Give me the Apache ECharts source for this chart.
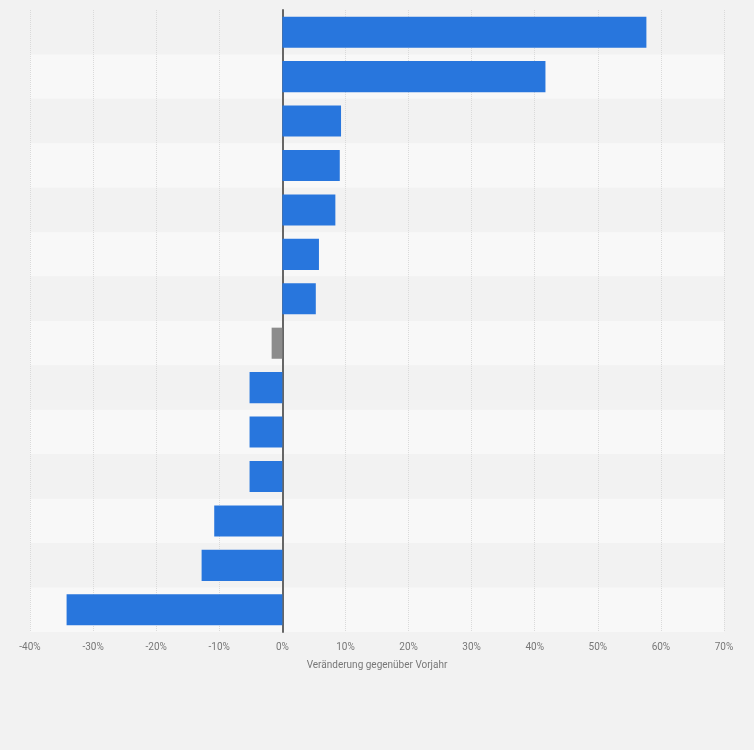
<!DOCTYPE html>
<html>
<head>
<meta charset="utf-8">
<script src="https://cdn.jsdelivr.net/npm/echarts@6/dist/echarts.min.js"></script>
<style>
  html, body { margin: 0; padding: 0; background: #f2f2f2; }
  #chart { width: 754px; height: 750px; }
</style>
</head>
<body>
<div id="chart"></div>
<script>
// categories are not labelled in the picture
const categories = ["A", "B", "C", "D", "E", "F", "G", "H", "I", "J", "K", "L", "M", "N"];
const values = [57.7, 41.7, 9.3, 9.1, 8.4, 5.8, 5.3, -1.7, -5.2, -5.2, -5.2, -10.8, -12.8, -34.2];
const grayIndex = [7];
const xTicks = [-40, -30, -20, -10, 0, 10, 20, 30, 40, 50, 60, 70];

const chart = echarts.init(document.getElementById("chart"));

chart.setOption({
  backgroundColor: "#f2f2f2",
  animation: false,
  grid: { left: 30, right: 30, top: 10, bottom: 118 },
  xAxis: {
    type: "value",
    min: xTicks[0],
    max: xTicks[xTicks.length - 1],
    interval: 10,
    name: "Veränderung gegenüber Vorjahr",
    nameLocation: "middle",
    nameGap: 28,
    nameTextStyle: { color: "#777", fontSize: 10, fontFamily: "Roboto" },
    axisLine: { show: false },
    axisTick: { show: false },
    axisLabel: {
      formatter: (v) => v + "%",
      color: "#777",
      fontSize: 10,
      fontFamily: "Roboto",
      margin: 10,
    },
    splitLine: { show: true, lineStyle: { color: "#dadada", type: "dotted" } },
  },
  yAxis: {
    type: "category",
    data: categories,
    inverse: true,
    axisLine: { show: true, onZero: true, lineStyle: { color: "#666", width: 2 } },
    axisTick: { show: false },
    axisLabel: { show: false },
    splitLine: { show: false },
    splitArea: { show: true, areaStyle: { color: ["#f2f2f2", "#f8f8f8"] } },
  },
  series: [
    {
      type: "bar",
      barCategoryGap: "30%",
      data: values.map((v, i) => ({
        value: v,
        itemStyle: { color: grayIndex.includes(i) ? "#8c8c8c" : "#2876dd" },
      })),
    },
  ],
});
</script>
</body>
</html>
